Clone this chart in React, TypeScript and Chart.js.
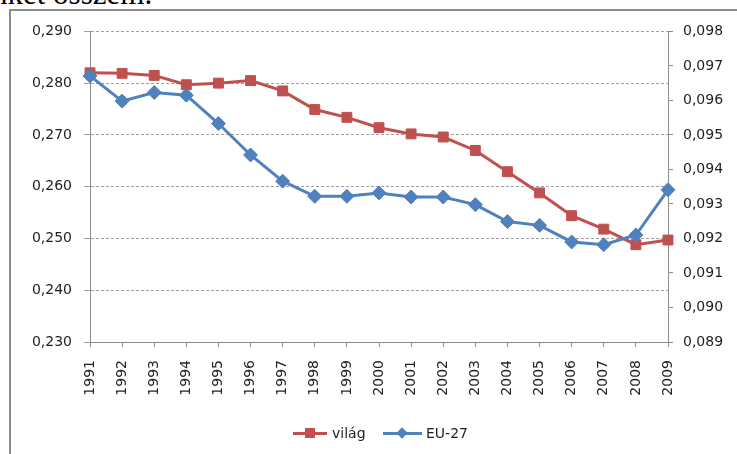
import React, { useEffect, useRef } from "react";
import { Chart, registerables } from "chart.js";

Chart.register(...registerables);

const years = ["1991","1992","1993","1994","1995","1996","1997","1998","1999","2000","2001","2002","2003","2004","2005","2006","2007","2008","2009"];
const vilag = [0.2820,0.2819,0.2815,0.2797,0.2800,0.2805,0.2785,0.2749,0.2734,0.2714,0.2702,0.2696,0.2670,0.2629,0.2588,0.2544,0.2518,0.2488,0.2497];
const eu27 = [0.09671,0.09598,0.09623,0.09615,0.09533,0.09442,0.09366,0.09322,0.09322,0.09332,0.09320,0.09320,0.09298,0.09249,0.09238,0.09190,0.09182,0.09210,0.09341];
const leftAxis = { min: 0.23, max: 0.29, step: 0.01 };
const rightAxis = { min: 0.089, max: 0.098, step: 0.001 };

const RED = "#C0504D";
const BLUE = "#4F81BD";
const FONT = "'DejaVu Sans', sans-serif";
const AXIS = "#8c8c8c";

const fmt = (v: number) => Number(v).toFixed(3).replace(".", ",");

export default function App() {
  const ref = useRef<HTMLCanvasElement | null>(null);
  useEffect(() => {
    if (!ref.current) return;
    const chart = new Chart(ref.current, {
      type: "line",
      data: {
        labels: years,
        datasets: [
          {
            label: "világ",
            data: vilag,
            yAxisID: "y",
            borderColor: RED,
            backgroundColor: RED,
            borderWidth: 3,
            pointStyle: "rect",
            pointRadius: 7,
            pointBackgroundColor: RED,
            pointBorderColor: RED,
            pointBorderWidth: 1,
            tension: 0,
            order: 1,
          },
          {
            label: "EU-27",
            data: eu27,
            yAxisID: "y1",
            borderColor: BLUE,
            backgroundColor: BLUE,
            borderWidth: 3,
            pointStyle: "rectRot",
            pointRadius: 7,
            pointBackgroundColor: BLUE,
            pointBorderColor: BLUE,
            pointBorderWidth: 1,
            tension: 0,
            order: 0,
          },
        ],
      },
      options: {
        animation: false,
        responsive: false,
        devicePixelRatio: 1,
        layout: { padding: { top: 18, left: 0, right: 0, bottom: 0 } },
        plugins: { legend: { display: false }, tooltip: { enabled: false } },
        scales: {
          x: {
            offset: false,
            grid: { drawOnChartArea: false, drawTicks: true, tickLength: 5, color: AXIS, offset: false },
            border: { display: true, color: AXIS, width: 1 },
            ticks: {
              autoSkip: false,
              minRotation: 90,
              maxRotation: 90,
              padding: 13,
              color: "#1f1f1f",
              font: { family: FONT, size: 14 },
            },
            afterFit: (s: any) => { s.height = 112; },
          },
          y: {
            position: "left",
            min: leftAxis.min,
            max: leftAxis.max,
            grid: { color: "#a0a0a0", tickLength: 6, lineWidth: 1 },
            border: { display: true, color: AXIS, width: 1, dash: [3, 2] },
            ticks: {
              stepSize: leftAxis.step,
              padding: 12,
              color: "#1f1f1f",
              font: { family: FONT, size: 14 },
              callback: (v: any) => fmt(v),
            },
            afterFit: (s: any) => { s.width = 79; },
          },
          y1: {
            position: "right",
            min: rightAxis.min,
            max: rightAxis.max,
            grid: { drawOnChartArea: false, tickLength: 5, color: AXIS },
            border: { display: true, color: AXIS, width: 1 },
            ticks: {
              stepSize: rightAxis.step,
              padding: 10,
              color: "#1f1f1f",
              font: { family: FONT, size: 14 },
              callback: (v: any) => fmt(v),
            },
            afterFit: (s: any) => { s.width = 69; },
          },
        },
      },
    });
    return () => chart.destroy();
  }, []);

  const legendText: React.CSSProperties = {
    position: "absolute",
    top: 424,
    fontFamily: FONT,
    fontSize: 14,
    lineHeight: "18px",
    color: "#1f1f1f",
    whiteSpace: "nowrap",
  };

  return (
    <div style={{ position: "absolute", left: 0, top: 0, width: 737, height: 454, overflow: "hidden", background: "#fff" }}>
      <div
        style={{
          position: "absolute",
          left: -8,
          top: -22,
          fontFamily: "'Liberation Serif', 'Times New Roman', serif",
          fontSize: 31,
          lineHeight: "31px",
          color: "#000",
          whiteSpace: "nowrap",
        }}
      >
        nket összem.
      </div>
      <div
        style={{
          position: "absolute",
          left: 9,
          top: 9,
          width: 800,
          height: 500,
          borderLeft: `2px solid ${AXIS}`,
          borderTop: `2px solid ${AXIS}`,
        }}
      />
      <canvas
        ref={ref}
        width={726}
        height={443}
        style={{ position: "absolute", left: 11, top: 11, width: 726, height: 443 }}
      />
      <div style={{ position: "absolute", left: 293, top: 432, width: 34, height: 3, background: RED }} />
      <div style={{ position: "absolute", left: 305, top: 428, width: 10, height: 10, background: RED }} />
      <div style={{ ...legendText, left: 332 }}>világ</div>
      <div style={{ position: "absolute", left: 383, top: 432, width: 39, height: 3, background: BLUE }} />
      <div style={{ position: "absolute", left: 398, top: 429, width: 8, height: 8, background: BLUE, transform: "rotate(45deg)" }} />
      <div style={{ ...legendText, left: 426 }}>EU-27</div>
    </div>
  );
}
